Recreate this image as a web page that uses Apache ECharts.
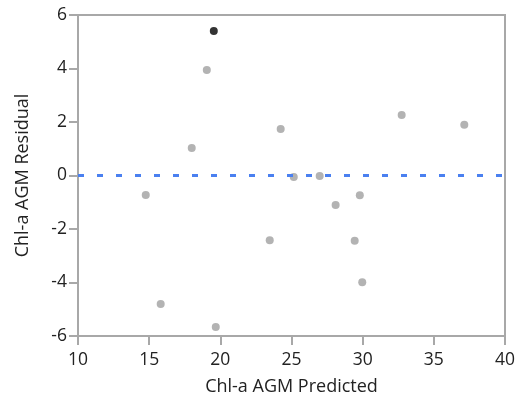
<!DOCTYPE html>
<html><head><meta charset="utf-8">
<script src="https://cdn.jsdelivr.net/npm/echarts@6/dist/echarts.min.js"></script>
<style>html,body{margin:0;padding:0;background:#fff}#c{width:520px;height:399px}</style>
</head><body><div id="c"></div>
<script>
const predicted = [14.76, 15.81, 17.99, 19.05, 19.68, 23.47, 24.24, 25.16, 26.98, 28.1, 29.44, 29.8, 29.97, 32.74, 37.14];
const residual  = [-0.73, -4.80, 1.03, 3.94, -5.66, -2.42, 1.74, -0.06, -0.02, -1.10, -2.44, -0.74, -3.99, 2.26, 1.90];
const highlightPredicted = [19.54];
const highlightResidual = [5.40];
const xTicks = [10, 15, 20, 25, 30, 35, 40];
const yTicks = [-6, -4, -2, 0, 2, 4, 6];
const referenceY = 0;

const font = '"Open Sans", "Noto Sans", sans-serif';
const axisCol = '#a8a8a8';
const chart = echarts.init(document.getElementById('c'), null, {renderer: 'canvas'});
chart.setOption({
  animation: false,
  grid: {left: 78, right: 15, top: 15, bottom: 63, containLabel: false, outerBoundsMode: 'none',
         show: true, borderColor: axisCol, borderWidth: 2, backgroundColor: 'transparent'},
  xAxis: {
    type: 'value', min: xTicks[0], max: xTicks[xTicks.length-1], interval: 5,
    name: 'Chl-a AGM Predicted', nameLocation: 'middle', nameGap: 42,
    nameTextStyle: {fontFamily: font, fontSize: 18, color: '#222'},
    axisLine: {show: true, onZero: false, lineStyle: {color: axisCol, width: 2}},
    axisTick: {show: true, inside: false, length: 9, lineStyle: {color: axisCol, width: 2}},
    axisLabel: {fontFamily: font, fontSize: 17.5, color: '#222', margin: 15},
    splitLine: {show: false}
  },
  yAxis: {
    type: 'value', min: yTicks[0], max: yTicks[yTicks.length-1], interval: 2,
    name: 'Chl-a AGM Residual', nameLocation: 'middle', nameGap: 46,
    nameTextStyle: {fontFamily: font, fontSize: 18, color: '#222'},
    axisLine: {show: true, onZero: false, lineStyle: {color: axisCol, width: 2}},
    axisTick: {show: true, inside: false, length: 9, lineStyle: {color: axisCol, width: 2}},
    axisLabel: {fontFamily: font, fontSize: 17.5, color: '#222', margin: 11},
    splitLine: {show: false}
  },
  series: [
    {
      type: 'scatter', symbolSize: 8,
      itemStyle: {color: '#a0a0a0'},
      data: predicted.map((x, i) => [x, residual[i]]),
      markLine: {
        silent: true, symbol: 'none', label: {show: false},
        lineStyle: {color: '#4a80f0', width: 3, type: [6, 13]},
        data: [{yAxis: referenceY}]
      }
    },
    {
      type: 'scatter', symbolSize: 8,
      itemStyle: {color: '#000'},
      data: highlightPredicted.map((x, i) => [x, highlightResidual[i]])
    }
  ]
});
</script></body></html>
